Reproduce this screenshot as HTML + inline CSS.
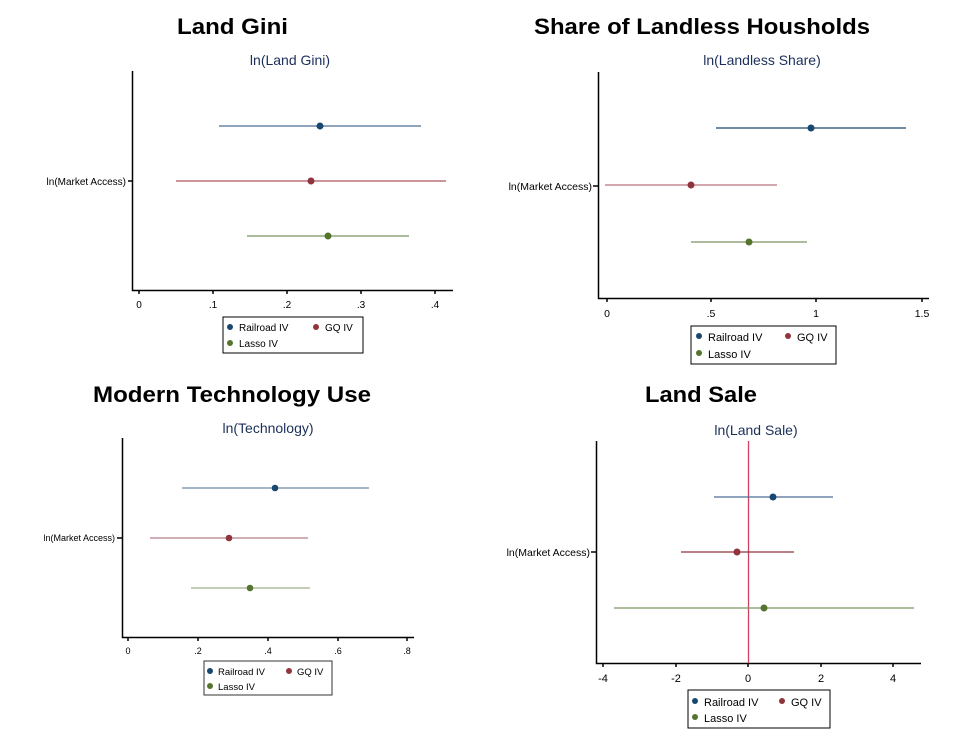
<!DOCTYPE html>
<html><head><meta charset="utf-8"><style>
html,body{margin:0;padding:0;background:#fff;}
svg{display:block;font-family:"Liberation Sans",Arial,sans-serif;}
</style></head><body>
<svg width="975" height="737" viewBox="0 0 975 737" xmlns="http://www.w3.org/2000/svg">
<rect width="975" height="737" fill="#fff"/>
<g font-weight="bold" font-size="22" fill="#000">
<text x="177" y="34" textLength="111" lengthAdjust="spacingAndGlyphs">Land Gini</text>
<text x="534" y="34" textLength="336" lengthAdjust="spacingAndGlyphs">Share of Landless Housholds</text>
<text x="93" y="402" textLength="278" lengthAdjust="spacingAndGlyphs">Modern Technology Use</text>
<text x="645" y="402" textLength="112" lengthAdjust="spacingAndGlyphs">Land Sale</text>
</g>
<g font-size="14" fill="#1c2f5a" text-anchor="middle">
<text x="290" y="65">ln(Land Gini)</text>
<text x="762" y="65">ln(Landless Share)</text>
<text x="268" y="433">ln(Technology)</text>
<text x="756" y="435">ln(Land Sale)</text>
</g>

<!-- Panel 1 -->
<g stroke="#000" stroke-width="1.5" fill="none">
<path d="M132.5 71 V290.5 H453"/>
<path d="M139 290 v4 M213 290 v4 M287 290 v4 M361 290 v4 M435 290 v4 M128 181 h4"/>
</g>
<g font-size="10" fill="#000" text-anchor="middle">
<text x="139" y="308">0</text><text x="213" y="308">.1</text><text x="287" y="308">.2</text><text x="361" y="308">.3</text><text x="435" y="308">.4</text>
</g>
<text x="126" y="185" font-size="10" text-anchor="end">ln(Market Access)</text>
<line x1="219" y1="126" x2="421" y2="126" stroke="#4d6f95" stroke-width="1.2"/>
<line x1="176" y1="181" x2="446" y2="181" stroke="#b05560" stroke-width="1.2"/>
<line x1="247" y1="236" x2="409" y2="236" stroke="#7a9460" stroke-width="1.2"/>
<circle cx="320" cy="126" r="3.5" fill="#1a476f"/>
<circle cx="311" cy="181" r="3.5" fill="#90353b"/>
<circle cx="328" cy="236" r="3.5" fill="#55752f"/>
<rect x="223" y="317" width="140" height="36" fill="#fff" stroke="#000"/>
<circle cx="230" cy="327" r="3" fill="#1a476f"/><text x="239" y="331" font-size="10">Railroad IV</text>
<circle cx="316" cy="327" r="3" fill="#90353b"/><text x="325" y="331" font-size="10">GQ IV</text>
<circle cx="230" cy="343" r="3" fill="#55752f"/><text x="239" y="347" font-size="10">Lasso IV</text>

<!-- Panel 2 -->
<g stroke="#000" stroke-width="1.5" fill="none">
<path d="M598.5 72 V298.5 H929"/>
<path d="M607 298 v4 M711 298 v4 M816 298 v4 M922 298 v4 M593 186 h5"/>
</g>
<g font-size="10.5" fill="#000" text-anchor="middle">
<text x="607" y="317">0</text><text x="711" y="317">.5</text><text x="816" y="317">1</text><text x="922" y="317">1.5</text>
</g>
<text x="592" y="190" font-size="10.5" text-anchor="end">ln(Market Access)</text>
<line x1="716" y1="128" x2="906" y2="128" stroke="#1a476f" stroke-width="1.2"/>
<line x1="605" y1="185" x2="777" y2="185" stroke="#c48a92" stroke-width="1.5"/>
<line x1="691" y1="242" x2="807" y2="242" stroke="#7a9460" stroke-width="1.2"/>
<circle cx="811" cy="128" r="3.5" fill="#1a476f"/>
<circle cx="691" cy="185" r="3.5" fill="#90353b"/>
<circle cx="749" cy="242" r="3.5" fill="#55752f"/>
<rect x="691" y="326" width="145" height="38" fill="#fff" stroke="#000"/>
<circle cx="699" cy="336" r="3" fill="#1a476f"/><text x="708" y="341" font-size="11">Railroad IV</text>
<circle cx="788" cy="336" r="3" fill="#90353b"/><text x="797" y="341" font-size="11">GQ IV</text>
<circle cx="699" cy="353" r="3" fill="#55752f"/><text x="708" y="358" font-size="11">Lasso IV</text>

<!-- Panel 3 -->
<g stroke="#000" stroke-width="1.5" fill="none">
<path d="M122.5 438 V637.5 H414"/>
<path d="M128 637 v4 M198 637 v4 M268 637 v4 M338 637 v4 M407 637 v4 M117 538 h5"/>
</g>
<g font-size="9" fill="#000" text-anchor="middle">
<text x="128" y="654">0</text><text x="198" y="654">.2</text><text x="268" y="654">.4</text><text x="338" y="654">.6</text><text x="407" y="654">.8</text>
</g>
<text x="115" y="541" font-size="9" text-anchor="end">ln(Market Access)</text>
<line x1="182" y1="488" x2="369" y2="488" stroke="#6f8aa6" stroke-width="1.3"/>
<line x1="150" y1="538" x2="308" y2="538" stroke="#b77f88" stroke-width="1.3"/>
<line x1="191" y1="588" x2="310" y2="588" stroke="#a0b08c" stroke-width="1.3"/>
<circle cx="275" cy="488" r="3.3" fill="#1a476f"/>
<circle cx="229" cy="538" r="3.3" fill="#90353b"/>
<circle cx="250" cy="588" r="3.3" fill="#55752f"/>
<rect x="204" y="661" width="128" height="34" fill="#fff" stroke="#333"/>
<circle cx="210" cy="671" r="3" fill="#1a476f"/><text x="218" y="675" font-size="9.5">Railroad IV</text>
<circle cx="289" cy="671" r="3" fill="#90353b"/><text x="297" y="675" font-size="9.5">GQ IV</text>
<circle cx="210" cy="686" r="3" fill="#55752f"/><text x="218" y="690" font-size="9.5">Lasso IV</text>

<!-- Panel 4 -->
<g stroke="#000" stroke-width="1.5" fill="none">
<path d="M596.5 441 V663.5 H921"/>
<path d="M603 663 v4 M676 663 v4 M748 663 v4 M821 663 v4 M893 663 v4 M591 552 h5"/>
</g>
<line x1="748.5" y1="441" x2="748.5" y2="663" stroke="#d0405f" stroke-width="1.3"/>
<g font-size="11" fill="#000" text-anchor="middle">
<text x="603" y="682">-4</text><text x="676" y="682">-2</text><text x="748" y="682">0</text><text x="821" y="682">2</text><text x="893" y="682">4</text>
</g>
<text x="590" y="556" font-size="10.5" text-anchor="end">ln(Market Access)</text>
<line x1="714" y1="497" x2="833" y2="497" stroke="#4d6f95" stroke-width="1.2"/>
<line x1="681" y1="552" x2="794" y2="552" stroke="#90353b" stroke-width="1.2"/>
<line x1="614" y1="608" x2="914" y2="608" stroke="#7a9460" stroke-width="1.2"/>
<circle cx="773" cy="497" r="3.5" fill="#1a476f"/>
<circle cx="737" cy="552" r="3.5" fill="#90353b"/>
<circle cx="764" cy="608" r="3.5" fill="#55752f"/>
<rect x="688" y="690" width="142" height="38" fill="#fff" stroke="#000"/>
<circle cx="695" cy="701" r="3" fill="#1a476f"/><text x="704" y="706" font-size="11">Railroad IV</text>
<circle cx="782" cy="701" r="3" fill="#90353b"/><text x="791" y="706" font-size="11">GQ IV</text>
<circle cx="695" cy="717" r="3" fill="#55752f"/><text x="704" y="722" font-size="11">Lasso IV</text>
</svg>
</body></html>
